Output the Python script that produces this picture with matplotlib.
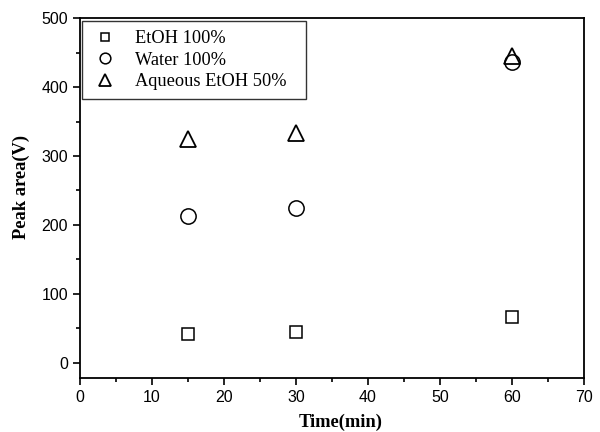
import matplotlib.pyplot as plt
from matplotlib.ticker import MultipleLocator

# Data
time_min = [15, 30, 60]
etoh_100 = [42, 45, 67]
water_100 = [213, 224, 436]
aq_etoh_50 = [325, 333, 445]

fig = plt.figure(figsize=(6, 4.32), dpi=100)
ax = fig.add_axes([0.1333, 0.125, 0.84, 0.833])

ax.plot(time_min, etoh_100, ls="none", marker="s", ms=9, mfc="white", mec="black", mew=1.1,
        label="EtOH 100%")
ax.plot(time_min, water_100, ls="none", marker="o", ms=11, mfc="none", mec="black", mew=1.1,
        label="Water 100%")
ax.plot(time_min, aq_etoh_50, ls="none", marker="^", ms=12, mfc="none", mec="black", mew=1.3,
        label="Aqueous EtOH 50%")

ax.set_xlim(0, 70)
ax.set_ylim(-22, 500)
ax.xaxis.set_major_locator(MultipleLocator(10))
ax.xaxis.set_minor_locator(MultipleLocator(5))
ax.yaxis.set_major_locator(MultipleLocator(100))
ax.yaxis.set_minor_locator(MultipleLocator(50))
ax.tick_params(which="both", direction="out", top=False, right=False, width=1.2)
ax.tick_params(which="major", length=5)
ax.tick_params(which="minor", length=3)
for lab in ax.get_xticklabels() + ax.get_yticklabels():
    lab.set_fontfamily("Liberation Sans")
    lab.set_fontsize(11.5)
for s in ax.spines.values():
    s.set_linewidth(1.3)

ax.set_xlabel("Time(min)", family="Liberation Serif", fontweight="bold", fontsize=13.3)
ax.set_ylabel("Peak area(V)", family="Liberation Serif", fontweight="bold", fontsize=13.3)
ax.xaxis.set_label_coords(0.518, -0.1)
ax.yaxis.set_label_coords(-0.1, 0.53)

# legend box spans roughly x 82..306 px, top at 21 px
leg = ax.legend(loc="upper left", bbox_to_anchor=(0.004, 0.992, 0.444, 0.0), mode="expand",
                prop={"family": "Liberation Serif", "size": 13.2},
                frameon=True, fancybox=False, edgecolor="black", markerscale=0.7,
                borderaxespad=0.0, handlelength=1.5, handletextpad=0.9,
                labelspacing=0.24, borderpad=0.5)
leg.get_frame().set_linewidth(1.0)

fig.savefig("out.png", dpi=100)
